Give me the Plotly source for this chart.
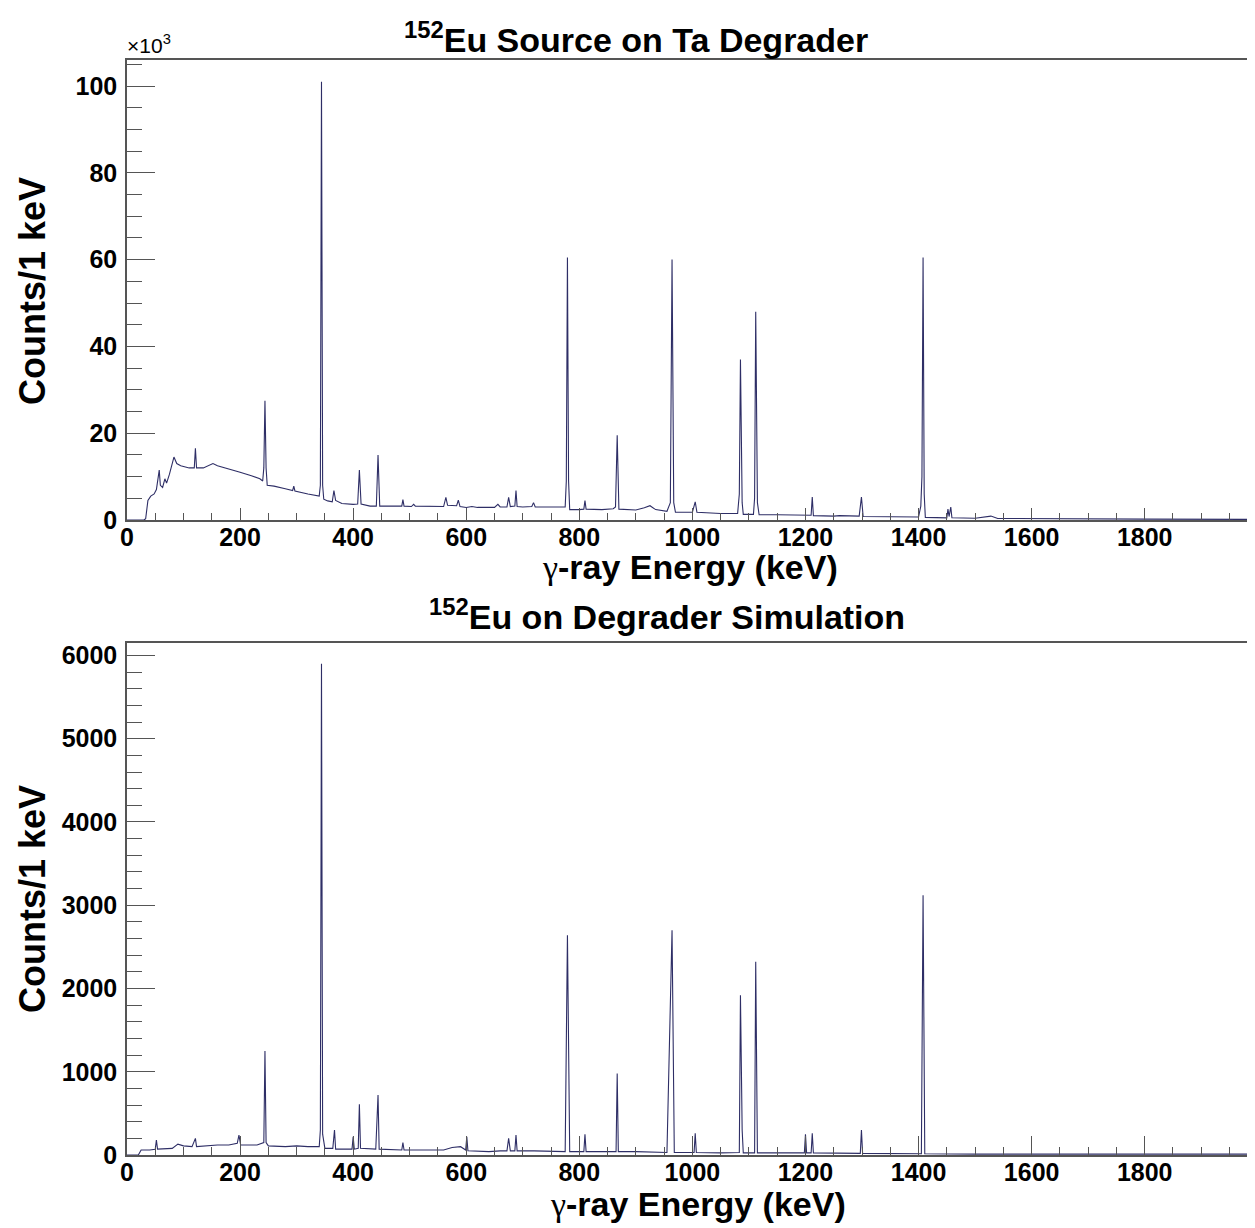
import plotly.graph_objects as go

# ---------------- data ----------------
# Measured 152Eu spectrum on Ta degrader: energy (keV) and counts per 1 keV
meas_energy = [0, 30, 33, 37, 42, 48, 52, 55, 57, 59, 63, 67, 70, 75, 80, 83, 88, 95, 110,
               119, 121, 123, 135, 145, 152, 160, 180, 200, 220, 235, 240, 242, 244, 246, 248,
               260, 280, 293, 295, 297, 320, 340, 342, 344, 346, 348, 355, 363, 366, 369, 380,
               400, 408, 411, 414, 430, 441, 444, 447, 480, 486, 488, 490, 503, 507, 510, 540,
               560, 564, 567, 583, 586, 589, 600, 610, 620, 650, 656, 660, 672, 675, 678, 686,
               688, 690, 700, 716, 719, 722, 760, 775, 777, 779, 781, 783, 800, 808, 810, 812,
               840, 860, 864, 867, 870, 900, 915, 925, 935, 955, 961, 964, 967, 970, 1000, 1005,
               1008, 1050, 1080, 1083, 1085, 1088, 1090, 1108, 1110, 1112, 1115, 1118, 1150,
               1200, 1210, 1212, 1214, 1250, 1260, 1295, 1299, 1302, 1380, 1400, 1404, 1406,
               1408, 1410, 1412, 1440, 1450, 1452, 1454, 1457, 1459, 1500, 1528, 1540, 1600,
               1800, 1988]
meas_counts = [0, 0, 300, 4500, 5500, 6000, 7000, 10500, 11500, 8000, 7500, 9500, 8500, 10500,
               13500, 14500, 13000, 12500, 12000, 12000, 16500, 12000, 12000, 12500, 13000,
               12500, 11800, 11000, 10200, 9500, 9000, 12000, 27500, 12000, 8000, 7800, 7200,
               6800, 7800, 6700, 6000, 5500, 8000, 101000, 8000, 4800, 4400, 4200, 6800, 4500,
               3800, 3600, 3700, 11500, 3700, 3200, 3200, 15000, 3200, 3100, 3200, 4700, 3200,
               3100, 3600, 3200, 3100, 3100, 5200, 3400, 3300, 4600, 3100, 2900, 3100, 2900,
               2900, 3600, 3000, 3000, 5200, 3100, 3200, 6800, 3100, 3000, 3100, 4000, 3000,
               2900, 3000, 9000, 60500, 9000, 2400, 2400, 2500, 4500, 2500, 2400, 2600, 3000,
               19500, 2500, 2300, 2800, 3300, 2400, 2000, 4000, 60000, 4000, 1800, 1800, 4200,
               1800, 1500, 1500, 6000, 37000, 4000, 1300, 1300, 5000, 48000, 4000, 1200, 1200,
               1100, 1100, 5300, 1000, 900, 1000, 900, 5300, 800, 700, 700, 3200, 10000, 60500,
               6000, 600, 500, 500, 2500, 800, 3000, 500, 400, 900, 350, 300, 200, 150]

# Simulated 152Eu spectrum on degrader: energy (keV) and counts per 1 keV
sim_energy = [0, 20, 25, 40, 50, 52, 54, 80, 90, 100, 115, 121, 123, 140, 160, 180, 195, 198,
              201, 230, 242, 244, 246, 250, 280, 300, 320, 340, 342, 344, 346, 350, 364, 367,
              369, 398, 400, 402, 409, 411, 413, 440, 444, 446, 486, 488, 490, 520, 560, 575,
              590, 599, 601, 603, 640, 660, 672, 675, 678, 686, 688, 690, 720, 775, 779, 783,
              808, 810, 812, 865, 867, 869, 900, 955, 964, 968, 1003, 1005, 1007, 1050, 1083,
              1085, 1088, 1090, 1110, 1112, 1115, 1150, 1198, 1200, 1202, 1210, 1212, 1214,
              1297, 1299, 1301, 1405, 1408, 1411, 1500, 1988]
sim_counts = [0, 0, 60, 60, 70, 180, 70, 80, 130, 110, 100, 200, 100, 110, 120, 120, 140, 240,
              120, 120, 150, 1250, 150, 110, 100, 110, 100, 100, 300, 5900, 250, 80, 80, 300,
              70, 70, 220, 70, 80, 610, 80, 70, 720, 70, 60, 150, 60, 60, 60, 90, 100, 60, 220,
              50, 40, 50, 50, 200, 50, 50, 240, 50, 50, 40, 2640, 40, 40, 250, 40, 40, 980, 40,
              40, 30, 2700, 30, 30, 260, 30, 25, 30, 1920, 300, 25, 25, 2320, 25, 25, 25, 250,
              25, 25, 260, 25, 20, 300, 20, 15, 3120, 15, 10, 10]

x_tick_vals = [0, 200, 400, 600, 800, 1000, 1200, 1400, 1600, 1800]
top_y_tick_vals = [0, 20000, 40000, 60000, 80000, 100000]
top_y_tick_text = ["0", "20", "40", "60", "80", "100"]
bot_y_tick_vals = [0, 1000, 2000, 3000, 4000, 5000, 6000]

# ---------------- figure ----------------
OFF = 8                      # page body margin in the browser
W, H = 1255 - OFF, 1228 - OFF
FONT = "Liberation Sans, Arial, Helvetica, sans-serif"
LINE = "#2e2e66"
FRAME = "#555555"


def px_x(p):
    return (p - OFF) / W


def px_y(p):
    return 1 - (p - OFF) / H


fig = go.Figure()
fig.add_trace(go.Scatter(x=meas_energy, y=meas_counts, mode="lines",
                         line=dict(color=LINE, width=1.1), xaxis="x", yaxis="y",
                         showlegend=False, hoverinfo="skip"))
fig.add_trace(go.Scatter(x=sim_energy, y=sim_counts, mode="lines",
                         line=dict(color=LINE, width=1.1), xaxis="x2", yaxis="y2",
                         showlegend=False, hoverinfo="skip"))

tick_font = dict(family=FONT, size=25, color="black", weight="bold")


def xaxis(domain, anchor, major_len, minor_len):
    return dict(domain=domain, anchor=anchor, range=[0, 1988], tickvals=x_tick_vals,
                ticks="inside", ticklen=major_len, tickwidth=1.2, tickcolor=FRAME,
                minor=dict(dtick=50, ticks="inside", ticklen=minor_len, tickwidth=1,
                           tickcolor=FRAME, tick0=0),
                showline=True, linecolor=FRAME, linewidth=1.5, mirror=True,
                showgrid=False, zeroline=False, tickfont=tick_font, fixedrange=True,
                automargin=False, ticklabelstandoff=-6)


def yaxis(domain, anchor, rng, vals, text, minor_dtick):
    d = dict(domain=domain, anchor=anchor, range=rng, tickvals=vals,
             ticks="inside", ticklen=28, tickwidth=1.2, tickcolor=FRAME,
             minor=dict(dtick=minor_dtick, ticks="inside", ticklen=15, tickwidth=1,
                        tickcolor=FRAME, tick0=0),
             showline=True, linecolor=FRAME, linewidth=1.5, mirror=True,
             showgrid=False, zeroline=False, tickfont=tick_font, fixedrange=True,
             ticklabelstandoff=3, automargin=False)
    if text is not None:
        d["ticktext"] = text
    return d


x_dom = [px_x(127), px_x(1251)]
fig.update_layout(
    width=W, height=H,
    margin=dict(l=0, r=0, t=0, b=0, autoexpand=False),
    paper_bgcolor="white", plot_bgcolor="white",
    font=dict(family=FONT, color="black"),
    xaxis=xaxis(x_dom, "y", 12, 7),
    yaxis=yaxis([px_y(520), px_y(60)], "x", [0, 106000], top_y_tick_vals,
                top_y_tick_text, 5000),
    xaxis2=xaxis(x_dom, "y2", 19, 8),
    yaxis2=yaxis([px_y(1155), px_y(643)], "x2", [0, 6150], bot_y_tick_vals,
                 None, 200),
)

GAMMA = "<span style=\"font-family:'Liberation Serif'\">\u03b3</span>"
title_font = dict(family=FONT, size=34, color="black")
ann = [
    dict(text="<b><sup>152</sup>Eu Source on Ta Degrader</b>", x=px_x(636), y=px_y(37)),
    dict(text="<b><sup>152</sup>Eu on Degrader Simulation</b>", x=px_x(667), y=px_y(614)),
    dict(text=GAMMA + "<b>-ray Energy (keV)</b>", x=px_x(690), y=px_y(567)),
    dict(text=GAMMA + "<b>-ray Energy (keV)</b>", x=px_x(698), y=px_y(1204)),
]
for a in ann:
    fig.add_annotation(xref="paper", yref="paper", xanchor="center", yanchor="middle",
                       showarrow=False, font=title_font, borderpad=0, **a)

for yc in (291, 899):
    fig.add_annotation(text="<b>Counts/1 keV</b>", xref="paper", yref="paper",
                       x=px_x(32), y=px_y(yc), xanchor="center", yanchor="middle",
                       textangle=-90, showarrow=False,
                       font=dict(family=FONT, size=36, color="black"))

fig.add_annotation(text="\u00d710<sup>3</sup>", xref="paper", yref="paper",
                   x=px_x(125), y=px_y(59), xanchor="left", yanchor="bottom",
                   showarrow=False, font=dict(family=FONT, size=21, color="black"))

fig.write_html("out.html", config={"displayModeBar": False})
